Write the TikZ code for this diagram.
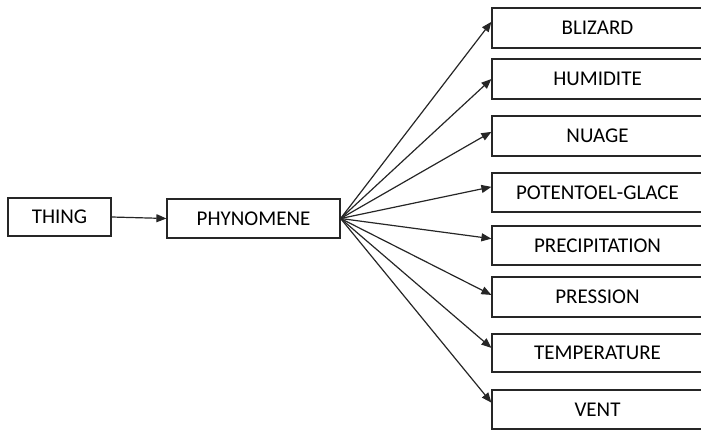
\documentclass[tikz,border=0pt]{standalone}
\usepackage{fontspec}
\setmainfont{Carlito}
\usetikzlibrary{arrows.meta,calc}
\begin{document}
\begin{tikzpicture}[x=1pt,y=-1pt,
  box/.style={draw=black!85,line width=1.2pt,rectangle,inner sep=0pt,
    font=\fontsize{21}{25}\selectfont,text=black},
  catbox/.style={box,minimum width=211pt},
  arr/.style={draw=black!85,line width=1.2pt,-{Triangle[length=10pt,width=8pt]}}]
\useasboundingbox (0,0) rectangle (701,430);
\clip (0,0) rectangle (701,430);

% root and main concept
\node[box,minimum width=103pt,minimum height=38pt] (thing) at (59.5,217) {THING};
\node[box,minimum width=173pt,minimum height=39pt] (phy) at (253.5,218.5) {PHYNOMENE};

% sub-concepts
\node[catbox,minimum height=40pt] (c1) at (597.5,28)    {BLIZARD};
\node[catbox,minimum height=40pt] (c2) at (597.5,79)    {HUMIDITE};
\node[catbox,minimum height=40pt] (c3) at (597.5,136)   {NUAGE};
\node[catbox,minimum height=39pt] (c4) at (597.5,192.5) {POTENTOEL-GLACE};
\node[catbox,minimum height=39pt] (c5) at (597.5,245.5) {PRECIPITATION};
\node[catbox,minimum height=40pt] (c6) at (597.5,297)   {PRESSION};
\node[catbox,minimum height=38pt] (c7) at (597.5,353)   {TEMPERATURE};
\node[catbox,minimum height=39pt] (c8) at (597.5,409.5) {VENT};

% connectors
\draw[arr] (thing.east) -- (phy.west);
\foreach \i/\f in {1/0.35,2/0.5,3/0.4,4/0.36,5/0.33,6/0.45,7/0.37,8/0.33}{
  \coordinate (t\i) at ($(c\i.north west)!\f!(c\i.south west)$);
  \draw[arr] (phy.east) -- (t\i);
}
\end{tikzpicture}
\end{document}
